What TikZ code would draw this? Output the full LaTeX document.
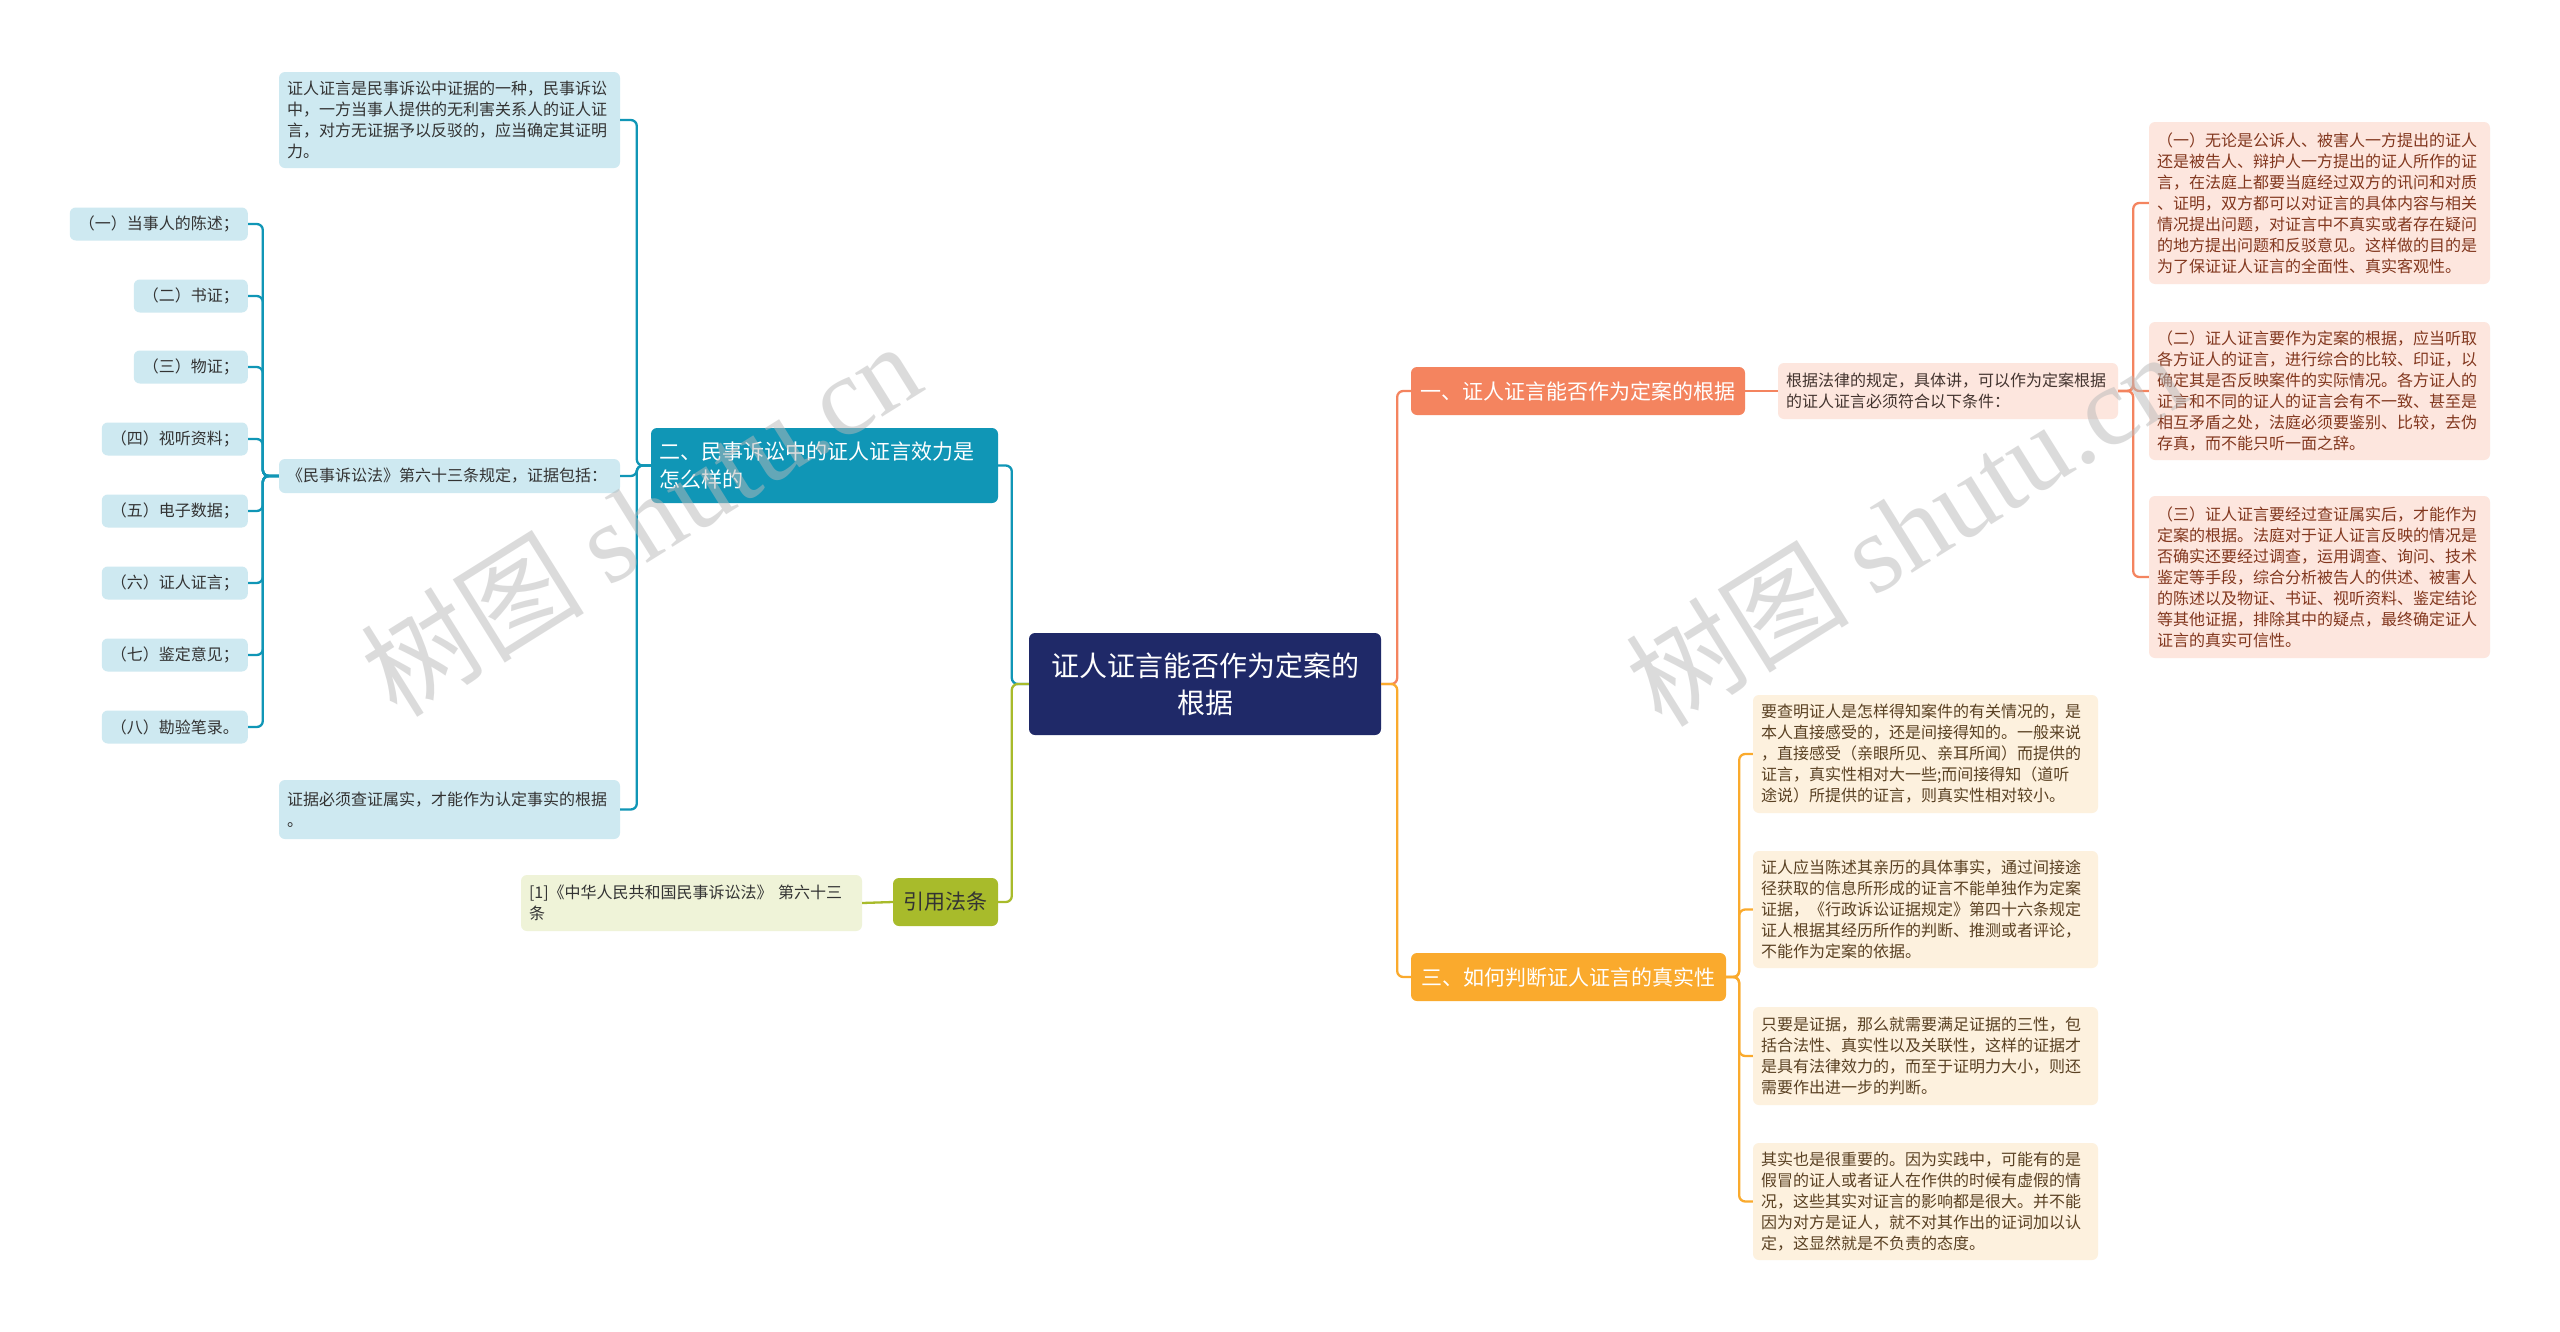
\documentclass[tikz,border=0pt]{standalone}
\usepackage{fontspec}
\setmainfont{Noto Sans CJK SC}
\newfontfamily\markserif{Liberation Serif}
\usetikzlibrary{positioning}
\definecolor{rootnavy}{RGB}{31,41,104}
\definecolor{mapteal}{RGB}{16,150,182}
\definecolor{mapolive}{RGB}{168,187,43}
\definecolor{mapcoral}{RGB}{244,132,95}
\definecolor{maporange}{RGB}{250,170,45}
\definecolor{leafblue}{RGB}{206,233,241}
\definecolor{leafgreen}{RGB}{239,243,216}
\definecolor{leafpink}{RGB}{253,230,222}
\definecolor{leafbeige}{RGB}{253,241,222}
\definecolor{pinktext}{RGB}{130,55,30}
\definecolor{beigetext}{RGB}{90,65,35}
\definecolor{leaftext}{RGB}{51,51,51}

\begin{document}
\begin{tikzpicture}[x=1pt, y=-1pt,
  rootbox/.style={fill=rootnavy, rounded corners=6pt, text=white, align=center,
    font=\fontsize{28}{37}\selectfont, minimum width=352pt, minimum height=102pt},
  topicbox/.style={rounded corners=6pt, text=white, inner xsep=8pt,
    font=\fontsize{21}{28}\selectfont, minimum height=48pt},
  leafbox/.style={rounded corners=6pt, inner xsep=8pt, inner ysep=5pt, align=left,
    text width=325pt, font=\fontsize{16}{21}\selectfont},
  itembox/.style={fill=leafblue, text=leaftext, rounded corners=6pt, inner xsep=9pt,
    minimum height=33pt, anchor=east, font=\fontsize{16}{21}\selectfont},
  link/.style={line width=2.3pt, rounded corners=6pt},
  watermark/.style={text=gray!55, text opacity=0.5, font=\fontsize{112}{112}\selectfont}]

\fill[white] (0,0) rectangle (2560,1331);
\useasboundingbox (0,0) rectangle (2560,1331);

% centre and main topics
\node[rootbox] (root) at (1205,684) {证人证言能否作为定案的\\根据};
\node[topicbox, fill=mapteal, align=left, text width=331pt, minimum height=75pt] (law) at (824.5,465.5)
  {二、民事诉讼中的证人证言效力是\\怎么样的};
\node[topicbox, fill=mapolive, text=leaftext, minimum width=105pt] (cite) at (945.5,902) {引用法条};
\node[topicbox, fill=mapcoral, minimum width=334pt] (basis) at (1578,391) {一、证人证言能否作为定案的根据};
\node[topicbox, fill=maporange, minimum width=315pt] (truth) at (1568.5,977) {三、如何判断证人证言的真实性};

% left side
\node[leafbox, fill=leafblue, text=leaftext, minimum height=96pt] (lawA) at (449.5,120)
  {证人证言是民事诉讼中证据的一种，民事诉讼\\中，一方当事人提供的无利害关系人的证人证\\言，对方无证据予以反驳的，应当确定其证明\\力。};
\node[leafbox, fill=leafblue, text=leaftext, minimum height=34pt] (lawB) at (449.5,476)
  {《民事诉讼法》第六十三条规定，证据包括：};
\node[leafbox, fill=leafblue, text=leaftext, minimum height=59pt] (lawC) at (449.5,809.5)
  {证据必须查证属实，才能作为认定事实的根据\\。};

\node[itembox] (ev1) at (248,224) {（一）当事人的陈述；};
\node[itembox] (ev2) at (248,296) {（二）书证；};
\node[itembox] (ev3) at (248,367) {（三）物证；};
\node[itembox] (ev4) at (248,439) {（四）视听资料；};
\node[itembox] (ev5) at (248,511) {（五）电子数据；};
\node[itembox] (ev6) at (248,583) {（六）证人证言；};
\node[itembox] (ev7) at (248,655) {（七）鉴定意见；};
\node[itembox] (ev8) at (248,727) {（八）勘验笔录。};

\node[leafbox, fill=leafgreen, text=leaftext, minimum height=56pt] (citeA) at (691.5,903)
  {[1]《中华人民共和国民事诉讼法》 第六十三\\条};

% right side
\node[leafbox, fill=leafpink, text=leaftext!80!pinktext, text width=324pt, minimum height=56pt] (rule) at (1948,391)
  {根据法律的规定，具体讲，可以作为定案根据\\的证人证言必须符合以下条件：};
\node[leafbox, fill=leafpink, text=pinktext, minimum height=162pt] (ruleA) at (2319.5,203)
  {（一）无论是公诉人、被害人一方提出的证人\\还是被告人、辩护人一方提出的证人所作的证\\言，在法庭上都要当庭经过双方的讯问和对质\\、证明，双方都可以对证言的具体内容与相关\\情况提出问题，对证言中不真实或者存在疑问\\的地方提出问题和反驳意见。这样做的目的是\\为了保证证人证言的全面性、真实客观性。};
\node[leafbox, fill=leafpink, text=pinktext, minimum height=138pt] (ruleB) at (2319.5,391)
  {（二）证人证言要作为定案的根据，应当听取\\各方证人的证言，进行综合的比较、印证，以\\确定其是否反映案件的实际情况。各方证人的\\证言和不同的证人的证言会有不一致、甚至是\\相互矛盾之处，法庭必须要鉴别、比较，去伪\\存真，而不能只听一面之辞。};
\node[leafbox, fill=leafpink, text=pinktext, minimum height=162pt] (ruleC) at (2319.5,577)
  {（三）证人证言要经过查证属实后，才能作为\\定案的根据。法庭对于证人证言反映的情况是\\否确实还要经过调查，运用调查、询问、技术\\鉴定等手段，综合分析被告人的供述、被害人\\的陈述以及物证、书证、视听资料、鉴定结论\\等其他证据，排除其中的疑点，最终确定证人\\证言的真实可信性。};

\node[leafbox, fill=leafbeige, text=beigetext, text width=329pt, minimum height=118pt] (truthA) at (1925.5,754)
  {要查明证人是怎样得知案件的有关情况的，是\\本人直接感受的，还是间接得知的。一般来说\\，直接感受（亲眼所见、亲耳所闻）而提供的\\证言，真实性相对大一些;而间接得知（道听\\途说）所提供的证言，则真实性相对较小。};
\node[leafbox, fill=leafbeige, text=beigetext, text width=329pt, minimum height=117pt] (truthB) at (1925.5,909.5)
  {证人应当陈述其亲历的具体事实，通过间接途\\径获取的信息所形成的证言不能单独作为定案\\证据，《行政诉讼证据规定》第四十六条规定\\证人根据其经历所作的判断、推测或者评论，\\不能作为定案的依据。};
\node[leafbox, fill=leafbeige, text=beigetext, text width=329pt, minimum height=98pt] (truthC) at (1925.5,1056)
  {只要是证据，那么就需要满足证据的三性，包\\括合法性、真实性以及关联性，这样的证据才\\是具有法律效力的，而至于证明力大小，则还\\需要作出进一步的判断。};
\node[leafbox, fill=leafbeige, text=beigetext, text width=329pt, minimum height=117pt] (truthD) at (1925.5,1201.5)
  {其实也是很重要的。因为实践中，可能有的是\\假冒的证人或者证人在作供的时候有虚假的情\\况，这些其实对证言的影响都是很大。并不能\\因为对方是证人，就不对其作出的证词加以认\\定，这显然就是不负责的态度。};

% connectors
\draw[link, mapteal] (root.west) -- ++(-17,0) |- (law.east);
\draw[link, mapolive] (root.west) -- ++(-17,0) |- (cite.east);
\draw[link, mapcoral] (root.east) -- ++(16,0) |- (basis.west);
\draw[link, maporange] (root.east) -- ++(16,0) |- (truth.west);

\foreach \n in {lawA,lawB,lawC}
  \draw[link, mapteal] (law.west) -- ++(-14,0) |- (\n.east);
\foreach \n in {ev1,ev2,ev3,ev4,ev5,ev6,ev7,ev8}
  \draw[link, mapteal] (lawB.west) -- ++(-16,0) |- (\n.east);
\draw[link, mapolive] (cite.west) -- (citeA.east);

\draw[link, mapcoral] (basis.east) -- (rule.west);
\foreach \n in {ruleA,ruleB,ruleC}
  \draw[link, mapcoral] (rule.east) -- ++(15,0) |- (\n.west);
\foreach \n in {truthA,truthB,truthC,truthD}
  \draw[link, maporange] (truth.east) -- ++(13,0) |- (\n.west);

% watermarks
\node[watermark, rotate=32] (markL) at (640,518) {树图 {\markserif shutu.cn}};
\node[watermark, rotate=32] (markR) at (1905,528) {树图 {\markserif shutu.cn}};
\end{tikzpicture}
\end{document}
